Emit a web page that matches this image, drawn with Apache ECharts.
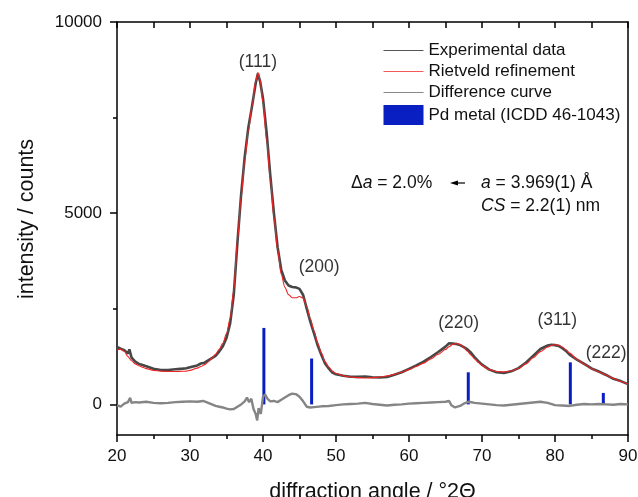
<!DOCTYPE html>
<html>
<head>
<meta charset="utf-8">
<script src="https://cdn.jsdelivr.net/npm/echarts@6/dist/echarts.min.js"></script>
<style>
  html, body { margin: 0; padding: 0; background: #fff; }
  #chart { width: 638px; height: 497px; }
</style>
</head>
<body>
<div id="chart"></div>
<script>
// XRD pattern of Pd nanoparticles with Rietveld fit
const experimental = [
  [20.0, 1500], [20.5, 1460], [21.0, 1420], [21.5, 1330], [21.7, 1440], [21.8, 1480], [22.0, 1220],
  [22.5, 1120], [23.0, 1060], [23.5, 1030], [24.0, 1000], [25.0, 930], [26.0, 900], [27.0, 900],
  [28.0, 920], [29.0, 935], [29.5, 945], [30.0, 970], [31.0, 1020], [31.5, 1070], [32.0, 1090],
  [32.5, 1150], [33.0, 1210], [33.5, 1270], [34.0, 1380], [34.5, 1520], [35.0, 1740], [35.5, 2120],
  [36.0, 2880], [36.5, 4240], [37.0, 5480], [37.5, 6480], [38.0, 7250], [38.5, 7800], [39.0, 8400],
  [39.3, 8650], [39.6, 8450], [40.0, 8000], [40.5, 7100], [41.0, 5980], [41.5, 4990], [42.0, 4110],
  [42.5, 3520], [43.0, 3240], [43.5, 3110], [44.0, 3070], [44.5, 3060], [45.0, 3020], [45.5, 2860],
  [46.0, 2500], [46.5, 2150], [47.0, 1850], [47.5, 1540], [48.0, 1290], [48.5, 1070], [49.0, 940],
  [49.5, 830], [50.0, 790], [51.0, 750], [52.0, 725], [53.0, 720], [54.0, 730], [55.0, 710],
  [56.0, 705], [57.0, 715], [58.0, 775], [59.0, 840], [60.0, 930], [61.0, 1020], [62.0, 1120],
  [63.0, 1240], [64.0, 1370], [65.0, 1510], [65.5, 1600], [66.0, 1590], [66.5, 1580], [67.0, 1550],
  [67.5, 1500], [68.0, 1440], [68.5, 1350], [69.0, 1230], [69.5, 1130], [70.0, 1040], [71.0, 910],
  [72.0, 840], [73.0, 820], [74.0, 865], [75.0, 950], [76.0, 1090], [77.0, 1270], [78.0, 1450],
  [79.0, 1540], [79.5, 1560], [80.0, 1550], [80.5, 1530], [81.0, 1470], [81.5, 1400], [82.0, 1300],
  [83.0, 1170], [84.0, 1060], [85.0, 940], [86.0, 860], [87.0, 770], [88.0, 670], [89.0, 610], [90.0, 530]
];

const refinement = [
  [20.0, 1420], [20.5, 1445], [21.0, 1390], [21.5, 1250], [22.0, 1140], [22.5, 1060], [23.0, 1010],
  [23.5, 975], [24.0, 935], [25.0, 890], [26.0, 868], [27.0, 862], [28.0, 862], [29.0, 866],
  [29.5, 870], [30.0, 890], [31.0, 950], [31.5, 990], [32.0, 1040], [32.5, 1110], [33.0, 1210],
  [33.5, 1310], [34.0, 1440], [34.5, 1600], [35.0, 1850], [35.5, 2250], [36.0, 3000], [36.5, 4300],
  [37.0, 5400], [37.5, 6400], [38.0, 7150], [38.5, 7800], [39.0, 8450], [39.3, 8680], [39.6, 8500],
  [40.0, 7900], [40.5, 6900], [41.0, 5900], [41.5, 4900], [42.0, 4050], [42.5, 3400], [43.0, 3060],
  [43.5, 2870], [44.0, 2790], [44.5, 2790], [45.0, 2820], [45.5, 2780], [46.0, 2560], [46.5, 2230],
  [47.0, 1920], [47.5, 1600], [48.0, 1340], [48.5, 1120], [49.0, 980], [49.5, 870], [50.0, 810],
  [51.0, 750], [52.0, 715], [53.0, 700], [54.0, 690], [55.0, 700], [56.0, 715], [57.0, 745],
  [58.0, 785], [59.0, 840], [60.0, 910], [61.0, 990], [62.0, 1080], [63.0, 1190], [64.0, 1310],
  [65.0, 1440], [65.5, 1510], [66.0, 1570], [66.5, 1595], [67.0, 1570], [67.5, 1490], [68.0, 1390],
  [68.5, 1290], [69.0, 1190], [69.5, 1100], [70.0, 1020], [71.0, 910], [72.0, 860], [73.0, 850],
  [74.0, 875], [75.0, 940], [76.0, 1060], [77.0, 1220], [78.0, 1380], [79.0, 1500], [79.5, 1540],
  [80.0, 1560], [80.5, 1550], [81.0, 1500], [81.5, 1430], [82.0, 1340], [83.0, 1180], [84.0, 1050],
  [85.0, 940], [86.0, 850], [87.0, 770], [88.0, 680], [89.0, 600], [90.0, 530]
];

const difference = [
  [20.0, -20], [20.5, -60], [21.0, 20], [21.5, 60], [21.8, 170], [22.0, 40], [22.5, 60], [23.0, 50],
  [24.0, 70], [25.0, 40], [26.0, 30], [27.0, 40], [28.0, 60], [29.0, 70], [30.0, 80], [31.0, 70],
  [31.8, 90], [32.5, 40], [33.0, 0], [33.5, -40], [34.0, -60], [34.5, -80], [35.0, -110], [35.5, -130],
  [36.0, -120], [36.5, -60], [37.0, 0], [37.5, 80], [37.8, 180], [38.1, 60], [38.4, 150], [38.7, -120],
  [39.0, -250], [39.2, -420], [39.4, -100], [39.7, -250], [40.0, 200], [40.3, 260], [40.6, 150],
  [41.0, 80], [41.5, 90], [42.0, 60], [42.5, 120], [43.0, 180], [43.5, 240], [44.0, 280], [44.5, 270],
  [45.0, 200], [45.5, 80], [46.0, -60], [46.5, -80], [47.0, -70], [48.0, -50], [49.0, -40], [50.0, -20],
  [51.0, 0], [52.0, 10], [53.0, 20], [54.0, 40], [55.0, 10], [56.0, -10], [57.0, -30], [58.0, -10],
  [59.0, 0], [60.0, 20], [61.0, 30], [62.0, 40], [63.0, 50], [64.0, 60], [65.0, 70], [65.5, 90],
  [65.8, -20], [66.3, -80], [67.0, -40], [67.5, 20], [68.2, 70], [69.0, 40], [70.0, 20], [71.0, 0],
  [72.0, -20], [73.0, -30], [74.0, -10], [75.0, 10], [76.0, 30], [77.0, 50], [78.0, 70], [79.0, 40],
  [80.0, -20], [81.0, -30], [82.0, -40], [83.0, -10], [84.0, 10], [85.0, 0], [86.0, 10], [87.0, 0],
  [88.0, -10], [89.0, 10], [90.0, 0]
];

// Pd metal reference reflections (ICDD 46-1043)
const pdAngles = [40.12, 46.66, 68.12, 82.10, 86.62];
const pdIntensity = [2000, 1200, 840, 1100, 300];

// hkl labels: [angle, counts, text]
const hklLabels = [
  [39.3, 8950, '(111)'],
  [47.7, 3600, '(200)'],
  [66.8, 2130, '(220)'],
  [80.3, 2190, '(311)'],
  [87.0, 1330, '(222)']
];

const yMajorTicks = [0, 5000, 10000];
const yMinorTicks = [2500, 7500];

const FONT = 'Liberation Sans, Arial, sans-serif';
const INK = '#111';
const EXP_COLOR = '#474747';
const FIT_COLOR = '#ee2424';
const DIFF_COLOR = '#858585';
const PD_COLOR = '#0a1fc2';

const chart = echarts.init(document.getElementById('chart'), null, { renderer: 'canvas' });

const option = {
  animation: false,
  backgroundColor: '#fff',
  textStyle: { fontFamily: FONT, color: INK },
  grid: { left: 117, right: 10, top: 22, bottom: 62, outerBoundsMode: 'none', containLabel: false },
  legend: {
    orient: 'vertical',
    left: 383,
    top: 42,
    padding: 0,
    itemWidth: 40,
    itemHeight: 20,
    itemGap: 4,
    textStyle: { fontSize: 17, color: INK, fontFamily: FONT },
    itemStyle: { opacity: 0 },
    data: [
      { name: 'Experimental data', lineStyle: { color: '#555', width: 1 } },
      { name: 'Rietveld refinement', lineStyle: { color: '#f05a5a', width: 1 } },
      { name: 'Difference curve', lineStyle: { color: '#888', width: 1 } },
      { name: 'Pd metal (ICDD 46-1043)', icon: 'rect', itemStyle: { opacity: 1, color: PD_COLOR } }
    ]
  },
  xAxis: [
    {
      type: 'value',
      min: 20,
      max: 90,
      interval: 10,
      name: 'diffraction angle / °2Θ',
      nameLocation: 'middle',
      nameGap: 46,
      nameTextStyle: { fontSize: 21.5, color: INK, fontFamily: FONT },
      axisLine: { onZero: false, lineStyle: { color: '#000', width: 1.5 } },
      axisTick: { length: 7, lineStyle: { color: '#000', width: 1.5 } },
      minorTick: { show: true, splitNumber: 2, length: 4, lineStyle: { color: '#000', width: 1.5 } },
      axisLabel: { fontSize: 17, color: INK, margin: 13 },
      splitLine: { show: false }
    },
    {
      type: 'value',
      position: 'top',
      min: 20,
      max: 90,
      interval: 5,
      axisLine: { onZero: false, lineStyle: { color: '#000', width: 1.5 } },
      axisTick: { inside: true, length: 6, lineStyle: { color: '#000', width: 1.5 } },
      axisLabel: { show: false },
      splitLine: { show: false }
    }
  ],
  yAxis: [
    {
      type: 'value',
      min: -800,
      max: 10000,
      axisLine: { show: true, onZero: false, lineStyle: { color: '#000', width: 1.5 } },
      axisTick: { show: true, length: 7, customValues: yMajorTicks, lineStyle: { color: '#000', width: 1.5 } },
      axisLabel: { fontSize: 17, color: INK, margin: 15, customValues: yMajorTicks, formatter: v => String(v) },
      splitLine: { show: false }
    },
    {
      type: 'value',
      position: 'left',
      min: -800,
      max: 10000,
      axisLine: { show: false },
      axisTick: { show: true, length: 4, customValues: yMinorTicks, lineStyle: { color: '#000', width: 1.5 } },
      axisLabel: { show: false },
      splitLine: { show: false }
    },
    {
      type: 'value',
      position: 'right',
      min: -800,
      max: 10000,
      axisLine: { show: true, onZero: false, lineStyle: { color: '#000', width: 1.5 } },
      axisTick: { show: false },
      axisLabel: { show: false },
      splitLine: { show: false }
    }
  ],
  graphic: [
    {
      type: 'text',
      x: 27, y: 219,
      rotation: Math.PI / 2,
      style: {
        text: 'intensity / counts',
        font: '21.5px ' + FONT,
        fill: INK,
        align: 'center',
        verticalAlign: 'middle'
      }
    },
    {
      type: 'text',
      x: 351, y: 183,
      style: {
        text: 'Δ{i|a} = 2.0%',
        font: '17.5px ' + FONT,
        fill: INK,
        verticalAlign: 'middle',
        rich: { i: { fontStyle: 'italic', fontSize: 17.5, fontFamily: FONT, fill: INK } }
      }
    },
    {
      type: 'line',
      shape: { x1: 457, y1: 183, x2: 465, y2: 183 },
      style: { stroke: '#000', lineWidth: 1.2 }
    },
    {
      type: 'polygon',
      shape: { points: [[450, 183], [458, 180.5], [458, 185.5]] },
      style: { fill: '#000' }
    },
    {
      type: 'text',
      x: 481, y: 183,
      style: {
        text: '{i|a} = 3.969(1) Å',
        font: '17.5px ' + FONT,
        fill: INK,
        verticalAlign: 'middle',
        rich: { i: { fontStyle: 'italic', fontSize: 17.5, fontFamily: FONT, fill: INK } }
      }
    },
    {
      type: 'text',
      x: 481, y: 206,
      style: {
        text: '{i|CS} = 2.2(1) nm',
        font: '17.5px ' + FONT,
        fill: INK,
        verticalAlign: 'middle',
        rich: { i: { fontStyle: 'italic', fontSize: 17.5, fontFamily: FONT, fill: INK } }
      }
    }
  ],
  series: [
    {
      name: 'Experimental data',
      type: 'line',
      data: experimental,
      showSymbol: false,
      symbol: 'none',
      lineStyle: { color: EXP_COLOR, width: 2.6 },
      itemStyle: { color: EXP_COLOR }
    },
    {
      name: 'Rietveld refinement',
      type: 'line',
      data: refinement,
      smooth: 0.3,
      smoothMonotone: 'x',
      symbol: 'none',
      lineStyle: { color: FIT_COLOR, width: 1.1 },
      itemStyle: { color: FIT_COLOR }
    },
    {
      name: 'Difference curve',
      type: 'line',
      data: difference,
      symbol: 'none',
      lineStyle: { color: DIFF_COLOR, width: 2.4 },
      itemStyle: { color: DIFF_COLOR }
    },
    {
      name: 'Pd metal (ICDD 46-1043)',
      type: 'bar',
      data: pdAngles.map((a, i) => [a, pdIntensity[i]]),
      barWidth: 3,
      itemStyle: { color: PD_COLOR }
    },
    {
      name: 'hkl',
      type: 'scatter',
      data: hklLabels,
      symbolSize: 0,
      silent: true,
      itemStyle: { color: 'transparent' },
      label: {
        show: true,
        position: 'inside',
        fontSize: 17.5,
        color: '#000',
        fontFamily: FONT,
        textBorderWidth: 0,
        formatter: p => p.value[2]
      }
    }
  ]
};

chart.setOption(option);
</script>
</body>
</html>
